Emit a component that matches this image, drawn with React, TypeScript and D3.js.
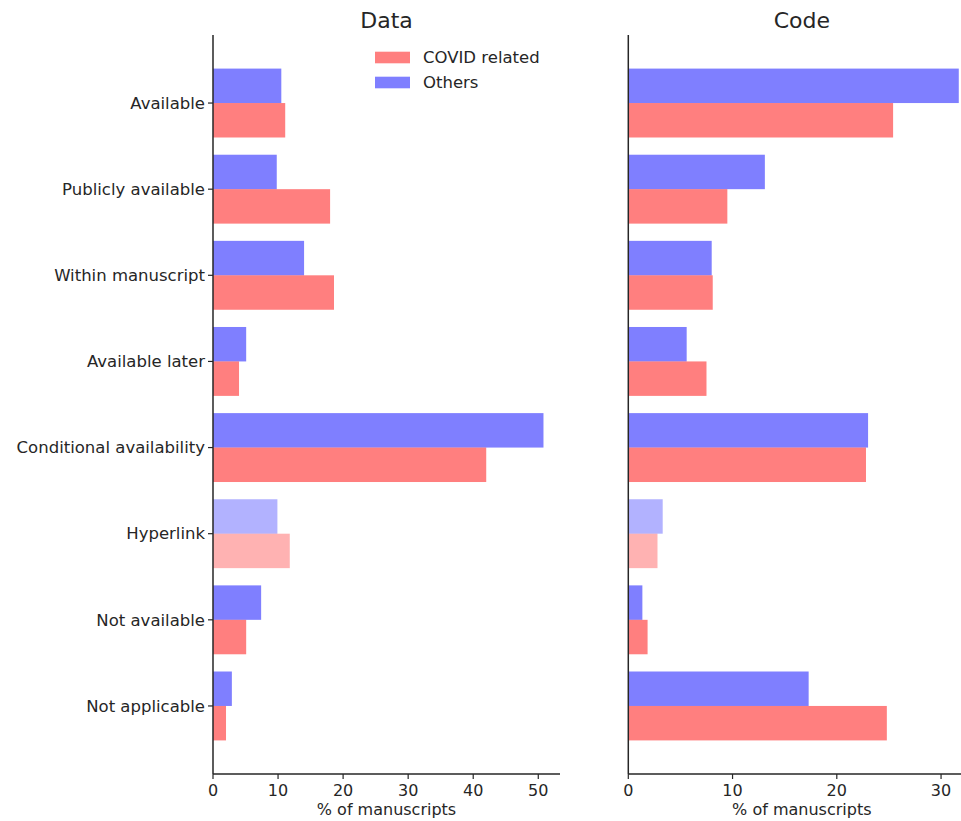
import { scaleLinear } from 'd3';

const categories = [
    'Available',
    'Publicly available',
    'Within manuscript',
    'Available later',
    'Conditional availability',
    'Hyperlink',
    'Not available',
    'Not applicable',
];

// % of manuscripts
const dataCovid = [11.1, 18.0, 18.6, 4.0, 42.0, 11.8, 5.1, 2.0];
const dataOthers = [10.5, 9.8, 14.0, 5.1, 50.8, 9.9, 7.4, 2.9];
const codeCovid = [25.4, 9.5, 8.1, 7.5, 22.8, 2.8, 1.85, 24.8];
const codeOthers = [31.7, 13.1, 8.0, 5.6, 23.0, 3.3, 1.35, 17.3];

const seriesNames = ['COVID related', 'Others'];
const seriesColors = ['red', 'blue'];
const fadedCategory = 'Hyperlink';

const W = 961;
const H = 821;
const top = 35;
const bottom = 774;
const panelWidth = 347;
const font = 'DejaVu Sans, sans-serif';
const ink = '#262626';

const scaleY = scaleLinear()
    .domain([-0.79, categories.length - 1 + 0.79])
    .range([top, bottom]);
const barH = scaleY(0.4) - scaleY(0);

function Panel({ title, left, covid, others, showLabels, showLegend }) {
    const max = Math.max(...covid, ...others);
    const scaleX = scaleLinear()
        .domain([0, max * 1.05])
        .range([left, left + panelWidth]);
    const ticks = scaleX.ticks(6).filter((t) => t % 10 === 0);

    return (
        <g>
            <text
                x={left + panelWidth / 2}
                y={28}
                textAnchor='middle'
                fontSize={22}
                fill={ink}
                fontFamily={font}
            >
                {title}
            </text>

            {categories.map((cat, i) => {
                const op = cat === fadedCategory ? 0.3 : 0.5;
                return (
                    <g key={cat}>
                        <rect
                            x={scaleX(0)}
                            y={scaleY(i) - barH}
                            width={scaleX(others[i]) - scaleX(0)}
                            height={barH}
                            fill={seriesColors[1]}
                            fillOpacity={op}
                        />
                        <rect
                            x={scaleX(0)}
                            y={scaleY(i)}
                            width={scaleX(covid[i]) - scaleX(0)}
                            height={barH}
                            fill={seriesColors[0]}
                            fillOpacity={op}
                        />
                        {showLabels && (
                            <>
                                <line
                                    x1={left - 5}
                                    x2={left}
                                    y1={scaleY(i)}
                                    y2={scaleY(i)}
                                    stroke={ink}
                                    strokeWidth={1.2}
                                />
                                <text
                                    x={left - 8}
                                    y={scaleY(i)}
                                    dy='0.35em'
                                    textAnchor='end'
                                    fontSize={16.5}
                                    fill={ink}
                                    fontFamily={font}
                                >
                                    {cat}
                                </text>
                            </>
                        )}
                    </g>
                );
            })}

            {/* spines */}
            <line
                x1={left}
                x2={left}
                y1={top}
                y2={bottom}
                stroke={ink}
                strokeWidth={1.5}
            />
            <line
                x1={left}
                x2={left + panelWidth}
                y1={bottom}
                y2={bottom}
                stroke={ink}
                strokeWidth={1.5}
            />

            {ticks.map((t) => (
                <g key={t}>
                    <line
                        x1={scaleX(t)}
                        x2={scaleX(t)}
                        y1={bottom}
                        y2={bottom + 5}
                        stroke={ink}
                        strokeWidth={1.2}
                    />
                    <text
                        x={scaleX(t)}
                        y={796}
                        textAnchor='middle'
                        fontSize={16}
                        fill={ink}
                        fontFamily={font}
                    >
                        {t}
                    </text>
                </g>
            ))}
            <text
                x={left + panelWidth / 2}
                y={815}
                textAnchor='middle'
                fontSize={16}
                fill={ink}
                fontFamily={font}
            >
                % of manuscripts
            </text>

            {showLegend &&
                seriesNames.map((name, k) => (
                    <g key={name} transform={`translate(375, ${51.7 + k * 25})`}>
                        <rect
                            width={35}
                            height={11.6}
                            fill={seriesColors[k]}
                            fillOpacity={0.5}
                        />
                        <text
                            x={48}
                            y={5.8}
                            dy='0.35em'
                            fontSize={16.5}
                            fill={ink}
                            fontFamily={font}
                        >
                            {name}
                        </text>
                    </g>
                ))}
        </g>
    );
}

export default function App() {
    return (
        <svg
            width={W}
            height={H}
            style={{ position: 'absolute', left: 0, top: 0, background: '#fff' }}
        >
            <rect width={W} height={H} fill='#fff' />
            <Panel
                title='Data'
                left={213}
                covid={dataCovid}
                others={dataOthers}
                showLabels
                showLegend
            />
            <Panel
                title='Code'
                left={628.3}
                covid={codeCovid}
                others={codeOthers}
                showLabels={false}
                showLegend={false}
            />
        </svg>
    );
}
